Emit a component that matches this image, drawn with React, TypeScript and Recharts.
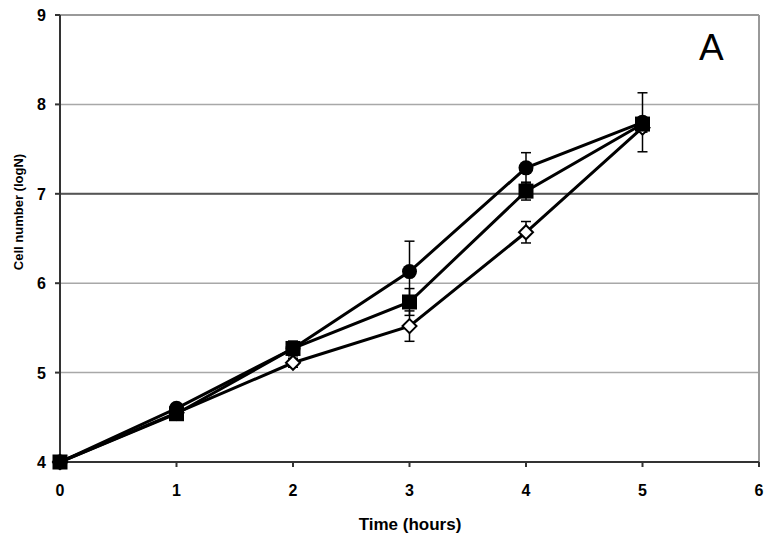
import React from 'react';
import {
  LineChart,
  Line,
  XAxis,
  YAxis,
  CartesianGrid,
  ReferenceLine,
  ErrorBar,
} from 'recharts';

// time points (hours)
const hours = [0, 1, 2, 3, 4, 5];

// log cell counts per series
const circleVals = [4.0, 4.6, 5.27, 6.13, 7.29, 7.8];
const squareVals = [4.0, 4.54, 5.27, 5.79, 7.03, 7.78];
const diamondVals = [4.0, 4.55, 5.11, 5.52, 6.57, 7.74];

// standard deviations
const circleErr = [0, 0.03, 0.08, 0.34, 0.17, 0.33];
const squareErr = [0, 0.03, 0.08, 0.15, 0.1, 0.05];
const diamondErr = [0, 0.03, 0.05, 0.17, 0.12, 0.05];

const xTicks = [0, 1, 2, 3, 4, 5, 6];
const yTicks = [4, 5, 6, 7, 8, 9];

const data = hours.map((h, i) => ({
  hour: h,
  circle: circleVals[i],
  square: squareVals[i],
  diamond: diamondVals[i],
  circleErr: circleErr[i],
  squareErr: squareErr[i],
  diamondErr: diamondErr[i],
}));

const FONT = '"Liberation Sans", Arial, sans-serif';

const XTick = (props: any) => {
  const { x, y, payload } = props;
  return (
    <text x={x} y={y} dy={29} textAnchor="middle" fontSize={16} fontWeight="bold" fill="#000" fontFamily={FONT}>
      {payload.value}
    </text>
  );
};

const YTick = (props: any) => {
  const { x, y, payload } = props;
  return (
    <text x={x} y={y} dx={-9} dy={6} textAnchor="end" fontSize={16} fontWeight="bold" fill="#000" fontFamily={FONT}>
      {payload.value}
    </text>
  );
};

const CircleDot = (props: any) => {
  const { cx, cy, index } = props;
  return <circle key={`c-${index}`} cx={cx} cy={cy} r={7.5} fill="#000" />;
};

const SquareDot = (props: any) => {
  const { cx, cy, index } = props;
  return <rect key={`s-${index}`} x={cx - 7.5} y={cy - 7.5} width={15} height={15} fill="#000" />;
};

const DiamondDot = (props: any) => {
  const { cx, cy, index } = props;
  const s = 7;
  return (
    <polygon
      key={`d-${index}`}
      points={`${cx},${cy - s} ${cx + s},${cy} ${cx},${cy + s} ${cx - s},${cy}`}
      fill="#fff"
      stroke="#000"
      strokeWidth={2}
    />
  );
};

export default function App() {
  return (
    <div style={{ position: 'absolute', left: 0, top: 0, width: 769, height: 541, background: '#fff' }}>
      <LineChart
        width={769}
        height={541}
        data={data}
        margin={{ top: 15, right: 10, left: 0, bottom: 0 }}
      >
        <CartesianGrid horizontal vertical={false} stroke="#a8a8a8" strokeWidth={1.5} />
        <XAxis
          dataKey="hour"
          type="number"
          domain={[0, 6]}
          ticks={xTicks}
          height={79}
          tickSize={5}
          tickMargin={0}
          tick={XTick}
          stroke="#333"
          strokeWidth={2}
          label={{
            content: () => (
              <text x={410} y={530} textAnchor="middle" fontSize={17} fontWeight="bold" fill="#000" fontFamily={FONT}>
                Time (hours)
              </text>
            ),
          }}
        />
        <YAxis
          type="number"
          domain={[4, 9]}
          ticks={yTicks}
          width={60}
          tickSize={5}
          tickMargin={0}
          tick={YTick}
          stroke="#333"
          strokeWidth={2}
          label={{
            content: () => (
              <text
                x={23}
                y={212}
                transform="rotate(-90 23 212)"
                textAnchor="middle"
                fontSize={13}
                fontWeight="bold"
                fill="#000"
                fontFamily={FONT}
              >
                Cell number (logN)
              </text>
            ),
          }}
        />
        <ReferenceLine y={7} stroke="#555" strokeWidth={2} />
        <ReferenceLine y={9} stroke="#999" strokeWidth={2} />
        <ReferenceLine x={6} stroke="#999" strokeWidth={2} />
        <Line
          dataKey="diamond"
          stroke="#000"
          strokeWidth={3}
          dot={DiamondDot}
          isAnimationActive={false}
        >
          <ErrorBar dataKey="diamondErr" direction="y" width={5} stroke="#000" strokeWidth={1.5} />
        </Line>
        <Line
          dataKey="circle"
          stroke="#000"
          strokeWidth={3}
          dot={CircleDot}
          isAnimationActive={false}
        >
          <ErrorBar dataKey="circleErr" direction="y" width={5} stroke="#000" strokeWidth={1.5} />
        </Line>
        <Line
          dataKey="square"
          stroke="#000"
          strokeWidth={3}
          dot={SquareDot}
          isAnimationActive={false}
        >
          <ErrorBar dataKey="squareErr" direction="y" width={5} stroke="#000" strokeWidth={1.5} />
        </Line>
      </LineChart>
      <div
        style={{
          position: 'absolute',
          left: 699,
          top: 28,
          fontSize: 37,
          fontFamily: FONT,
          lineHeight: '40px',
          color: '#000',
        }}
      >
        A
      </div>
    </div>
  );
}
